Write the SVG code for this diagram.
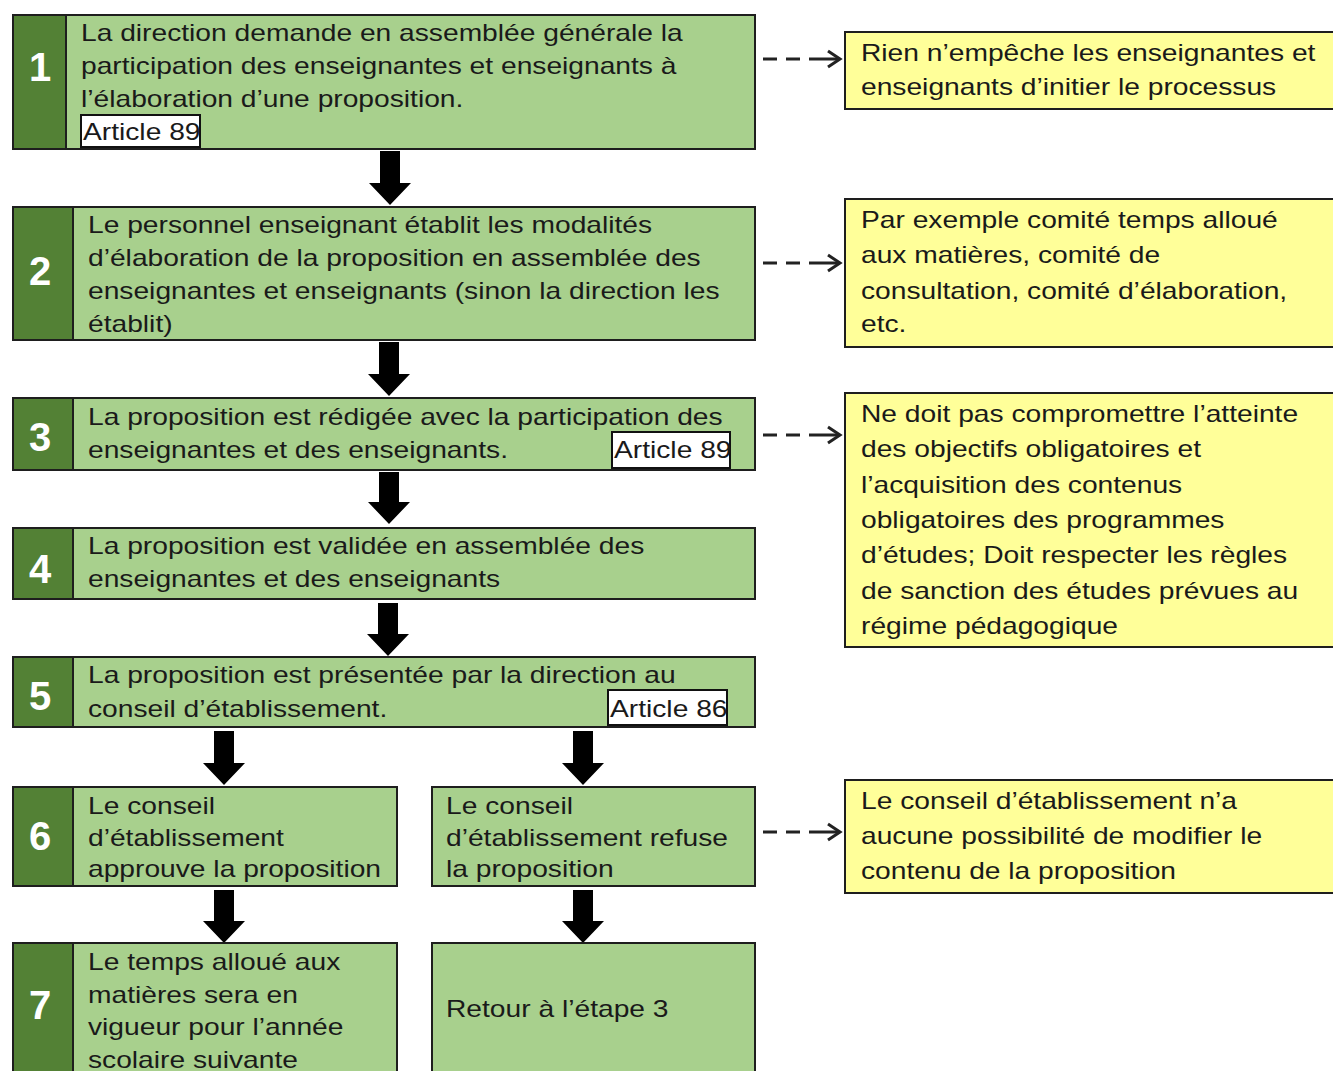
<svg xmlns="http://www.w3.org/2000/svg" width="1333" height="1071" viewBox="0 0 1333 1071">
<style>
.box{fill:#a8d08d;stroke:#1e1e1e;stroke-width:2}
.num{fill:#538135;stroke:#1e1e1e;stroke-width:2}
.note{fill:#ffff99;stroke:#1e1e1e;stroke-width:2}
.art{fill:#ffffff;stroke:#111;stroke-width:2}
.t{font-family:"Liberation Sans",Arial,sans-serif;font-size:24px;fill:#1a1a1a}
.n{font-family:"Liberation Sans",Arial,sans-serif;font-size:40px;font-weight:bold;fill:#ffffff;text-anchor:middle}
.blk{fill:#000}
.dash{stroke:#222;stroke-width:3;stroke-dasharray:14 9;fill:none}
.chev{stroke:#222;stroke-width:3;fill:none;stroke-linejoin:miter}
</style>
<defs>
  <g id="dashArrow">
    <line class="dash" x1="0" y1="0" x2="38" y2="0"/>
    <line class="chev" x1="46" y1="0" x2="76" y2="0"/>
    <polyline class="chev" points="65,-8 77,0 65,8"/>
  </g>
</defs>
<rect width="1333" height="1071" fill="#fff"/>

<g id="connectors">
  <polygon class="blk" points="380,151 400,151 400,183 411,183 390,205 369,183 380,183"/>
  <polygon class="blk" points="379,342 399,342 399,374 410,374 389,396 368,374 379,374"/>
  <polygon class="blk" points="379,472 399,472 399,502 410,502 389,524 368,502 379,502"/>
  <polygon class="blk" points="378,603 398,603 398,634 409,634 388,656 367,634 378,634"/>
  <polygon class="blk" points="214,731 234,731 234,763 245,763 224,785 203,763 214,763"/>
  <polygon class="blk" points="573,731 593,731 593,763 604,763 583,785 562,763 573,763"/>
  <polygon class="blk" points="214,890 234,890 234,921 245,921 224,943 203,921 214,921"/>
  <polygon class="blk" points="573,890 593,890 593,921 604,921 583,943 562,921 573,921"/>
  <use href="#dashArrow" x="763" y="59"/>
  <use href="#dashArrow" x="763" y="263"/>
  <use href="#dashArrow" x="763" y="435"/>
  <use href="#dashArrow" x="763" y="832"/>
</g>

<g id="step1">
  <rect class="box" x="13" y="15" width="742" height="134"/>
  <rect class="num" x="13" y="15" width="53" height="134"/>
  <text class="n" x="40" y="81">1</text>
  <rect class="art" x="81" y="115" width="119" height="32"/>
  <text class="t" transform="matrix(1.175 0 0 1 81 0)"><tspan x="0" y="41">La direction demande en assemblée générale la</tspan><tspan x="0" y="74">participation des enseignantes et enseignants à</tspan><tspan x="0" y="107">l’élaboration d’une proposition.</tspan></text>
  <text class="t" transform="matrix(1.175 0 0 1 83 0)" fill="#111133"><tspan x="0" y="140">Article 89</tspan></text>
</g>

<g id="step2">
  <rect class="box" x="13" y="207" width="742" height="133"/>
  <rect class="num" x="13" y="207" width="60" height="133"/>
  <text class="n" x="40" y="285">2</text>
  <text class="t" transform="matrix(1.175 0 0 1 88 0)"><tspan x="0" y="233">Le personnel enseignant établit les modalités</tspan><tspan x="0" y="266">d’élaboration de la proposition en assemblée des</tspan><tspan x="0" y="299">enseignantes et enseignants (sinon la direction les</tspan><tspan x="0" y="332">établit)</tspan></text>
</g>

<g id="step3">
  <rect class="box" x="13" y="398" width="742" height="72"/>
  <rect class="num" x="13" y="398" width="60" height="72"/>
  <text class="n" x="40" y="451">3</text>
  <rect class="art" x="612" y="432" width="118" height="36"/>
  <text class="t" transform="matrix(1.175 0 0 1 88 0)"><tspan x="0" y="425">La proposition est rédigée avec la participation des</tspan><tspan x="0" y="458">enseignantes et des enseignants.</tspan></text>
  <text class="t" transform="matrix(1.175 0 0 1 614 0)"><tspan x="0" y="458">Article 89</tspan></text>
</g>

<g id="step4">
  <rect class="box" x="13" y="528" width="742" height="71"/>
  <rect class="num" x="13" y="528" width="60" height="71"/>
  <text class="n" x="40" y="583">4</text>
  <text class="t" transform="matrix(1.175 0 0 1 88 0)"><tspan x="0" y="554">La proposition est validée en assemblée des</tspan><tspan x="0" y="587">enseignantes et des enseignants</tspan></text>
</g>

<g id="step5">
  <rect class="box" x="13" y="657" width="742" height="70"/>
  <rect class="num" x="13" y="657" width="60" height="70"/>
  <text class="n" x="40" y="710">5</text>
  <rect class="art" x="608" y="690" width="119" height="35"/>
  <text class="t" transform="matrix(1.175 0 0 1 88 0)"><tspan x="0" y="683">La proposition est présentée par la direction au</tspan><tspan x="0" y="717">conseil d’établissement.</tspan></text>
  <text class="t" transform="matrix(1.175 0 0 1 610 0)"><tspan x="0" y="717">Article 86</tspan></text>
</g>

<g id="step6">
  <rect class="box" x="13" y="787" width="384" height="99"/>
  <rect class="num" x="13" y="787" width="60" height="99"/>
  <text class="n" x="40" y="850">6</text>
  <text class="t" transform="matrix(1.175 0 0 1 88 0)"><tspan x="0" y="814">Le conseil</tspan><tspan x="0" y="846">d’établissement</tspan><tspan x="0" y="877">approuve la proposition</tspan></text>
</g>

<g id="step6-refuse">
  <rect class="box" x="432" y="787" width="323" height="99"/>
  <text class="t" transform="matrix(1.175 0 0 1 446 0)"><tspan x="0" y="814">Le conseil</tspan><tspan x="0" y="846">d’établissement refuse</tspan><tspan x="0" y="877">la proposition</tspan></text>
</g>

<g id="step7">
  <rect class="box" x="13" y="943" width="384" height="140"/>
  <rect class="num" x="13" y="943" width="60" height="140"/>
  <text class="n" x="40" y="1019">7</text>
  <text class="t" transform="matrix(1.175 0 0 1 88 0)"><tspan x="0" y="970">Le temps alloué aux</tspan><tspan x="0" y="1003">matières sera en</tspan><tspan x="0" y="1035">vigueur pour l’année</tspan><tspan x="0" y="1068">scolaire suivante</tspan></text>
</g>

<g id="retour">
  <rect class="box" x="432" y="943" width="323" height="140"/>
  <text class="t" transform="matrix(1.175 0 0 1 446 0)"><tspan x="0" y="1017">Retour à l’étape 3</tspan></text>
</g>

<g id="note1">
  <rect class="note" x="845" y="32" width="500" height="77"/>
  <text class="t" transform="matrix(1.175 0 0 1 861 0)"><tspan x="0" y="61">Rien n’empêche les enseignantes et</tspan><tspan x="0" y="95">enseignants d’initier le processus</tspan></text>
</g>

<g id="note2">
  <rect class="note" x="845" y="199" width="500" height="148"/>
  <text class="t" transform="matrix(1.175 0 0 1 861 0)"><tspan x="0" y="228">Par exemple comité temps alloué</tspan><tspan x="0" y="263">aux matières, comité de</tspan><tspan x="0" y="299">consultation, comité d’élaboration,</tspan><tspan x="0" y="332">etc.</tspan></text>
</g>

<g id="note3">
  <rect class="note" x="845" y="393" width="500" height="254"/>
  <text class="t" transform="matrix(1.175 0 0 1 861 0)"><tspan x="0" y="422">Ne doit pas compromettre l’atteinte</tspan><tspan x="0" y="457">des objectifs obligatoires et</tspan><tspan x="0" y="493">l’acquisition des contenus</tspan><tspan x="0" y="528">obligatoires des programmes</tspan><tspan x="0" y="563">d’études; Doit respecter les règles</tspan><tspan x="0" y="599">de sanction des études prévues au</tspan><tspan x="0" y="634">régime pédagogique</tspan></text>
</g>

<g id="note4">
  <rect class="note" x="845" y="780" width="500" height="113"/>
  <text class="t" transform="matrix(1.175 0 0 1 861 0)"><tspan x="0" y="809">Le conseil d’établissement n’a</tspan><tspan x="0" y="844">aucune possibilité de modifier le</tspan><tspan x="0" y="879">contenu de la proposition</tspan></text>
</g>
</svg>
